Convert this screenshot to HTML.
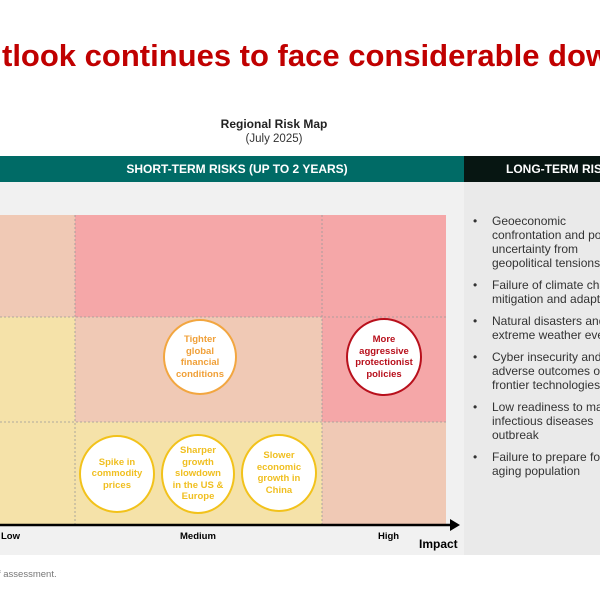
<!DOCTYPE html>
<html><head><meta charset="utf-8"><style>
body{margin:0;width:600px;height:600px;overflow:hidden;background:#fff;font-family:"Liberation Sans",Arial,sans-serif;position:relative}
.a{position:absolute}
.clip{position:absolute;overflow:hidden}
.c{position:absolute;border-radius:50%;background:#fff;box-sizing:border-box;display:flex;align-items:center;justify-content:center;text-align:center;font-weight:bold;font-size:9.5px;line-height:11.5px}
.y{border:2px solid #f2c21b;color:#f0bf20}
.o{border:2px solid #f2a640;color:#f0a038}
.r{border:2px solid #b8101c;color:#b8101c}
ul{margin:0;padding:0;list-style:none}
li{position:relative;padding-left:28px;margin-bottom:8px;font-size:12px;line-height:14px;color:#333}
li:before{content:"•";position:absolute;left:9px;top:0}
</style></head><body>
<div class="clip" style="left:0;top:30px;width:600px;height:50px"><div class="a" style="left:2px;top:8px;font-size:31px;font-weight:bold;color:#c00000;white-space:nowrap">tlook continues to face considerable downside risks</div></div>
<div class="a" style="left:0;width:548px;top:117px;text-align:center;font-size:12px;font-weight:bold;color:#222">Regional Risk Map</div>
<div class="a" style="left:0;width:548px;top:133px;text-align:center;font-size:11.5px;color:#333">(July 2025)</div>
<div class="a" style="left:0;top:156px;width:464px;height:26px;background:#006b66;color:#fff;font-size:12px;font-weight:bold;line-height:26px;text-align:center;padding-left:10px;box-sizing:border-box">SHORT-TERM RISKS (UP TO 2 YEARS)</div>
<div class="clip" style="left:464px;top:156px;width:136px;height:26px;background:#071612;color:#fff;font-size:12px;font-weight:bold;line-height:26px;white-space:nowrap"><span style="position:absolute;left:42px">LONG-TERM RISKS</span></div>
<div class="a" style="left:0;top:182px;width:464px;height:373px;background:#f1f1f1"></div>
<div class="a" style="left:464px;top:182px;width:136px;height:373px;background:#eaeaea"></div>
<svg class="a" style="left:0;top:0" width="470" height="560">
<rect x="0" y="215" width="75" height="102" fill="#f0c9b5"/>
<rect x="75" y="215" width="371" height="102" fill="#f5a7a8"/>
<rect x="0" y="317" width="75" height="105" fill="#f5e2a9"/>
<rect x="75" y="317" width="247" height="105" fill="#f0c9b5"/>
<rect x="322" y="317" width="124" height="105" fill="#f5a7a8"/>
<rect x="0" y="422" width="322" height="102" fill="#f5e2a9"/>
<rect x="322" y="422" width="124" height="102" fill="#f0c9b5"/>
<g stroke="#999" stroke-dasharray="2,2" stroke-width="0.8">
<line x1="75" y1="215" x2="75" y2="524"/><line x1="322" y1="215" x2="322" y2="524"/>
<line x1="0" y1="317" x2="446" y2="317"/><line x1="0" y1="422" x2="446" y2="422"/>
</g>
<line x1="0" y1="525" x2="452" y2="525" stroke="#000" stroke-width="2.5"/>
<polygon points="450,519 460,525 450,531" fill="#000"/>
</svg>
<div class="c o" style="left:163px;top:319px;width:74px;height:76px">Tighter<br>global<br>financial<br>conditions</div>
<div class="c r" style="left:346px;top:318px;width:76px;height:78px">More<br>aggressive<br>protectionist<br>policies</div>
<div class="c y" style="left:79px;top:435px;width:76px;height:78px">Spike in<br>commodity<br>prices</div>
<div class="c y" style="left:161px;top:434px;width:74px;height:80px">Sharper<br>growth<br>slowdown<br>in the US &amp;<br>Europe</div>
<div class="c y" style="left:241px;top:434px;width:76px;height:78px">Slower<br>economic<br>growth in<br>China</div>
<div class="a" style="left:1px;top:531px;font-size:9.5px;font-weight:bold">Low</div>
<div class="a" style="left:180px;top:531px;font-size:9.5px;font-weight:bold">Medium</div>
<div class="a" style="left:378px;top:531px;font-size:9.5px;font-weight:bold">High</div>
<div class="a" style="left:419px;top:537px;font-size:12px;font-weight:bold">Impact</div>
<div class="clip" style="left:464px;top:214px;width:136px;height:300px">
<ul class="a" style="left:0;top:0;width:200px;white-space:nowrap">
<li>Geoeconomic<br>confrontation and policy<br>uncertainty from<br>geopolitical tensions</li>
<li>Failure of climate change<br>mitigation and adaptation</li>
<li>Natural disasters and<br>extreme weather events</li>
<li>Cyber insecurity and<br>adverse outcomes of<br>frontier technologies</li>
<li>Low readiness to manage<br>infectious diseases<br>outbreak</li>
<li>Failure to prepare for<br>aging population</li>
</ul></div>
<div class="a" style="left:-2px;top:569px;font-size:9.5px;color:#777">f assessment.</div>
</body></html>
